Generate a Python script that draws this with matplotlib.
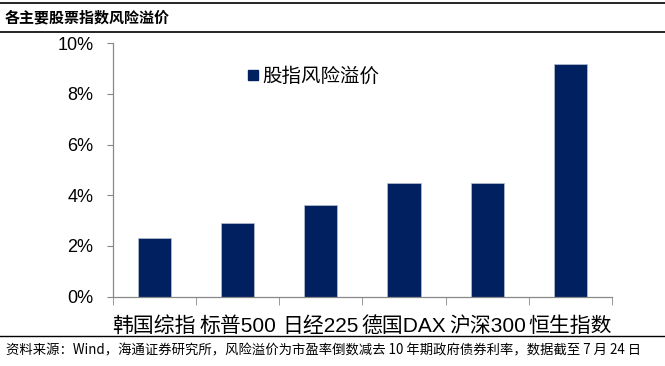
import matplotlib
matplotlib.use("Agg")
import matplotlib.pyplot as plt
from matplotlib.lines import Line2D
from matplotlib.ticker import FuncFormatter, FixedLocator

plt.rcParams['font.family'] = ['Liberation Sans', 'Noto Sans CJK SC', 'DejaVu Sans']

categories = ["韩国综指", "标普500", "日经225", "德国DAX", "沪深300", "恒生指数"]
values = [2.30, 2.90, 3.61, 4.50, 4.50, 9.18]
series_name = "股指风险溢价"
yticks = [0, 2, 4, 6, 8, 10]
title = "各主要股票指数风险溢价"
source = "资料来源：Wind，海通证券研究所，风险溢价为市盈率倒数减去 10 年期政府债券利率，数据截至 7 月 24 日"

bar_color = "#002060"

W, H = 665, 366
fig = plt.figure(figsize=(6.65, 3.66), dpi=100)
L, R, B, T = 112.7, 612, 296.7, 43.2
ax = fig.add_axes([L/W, 1-B/H, (R-L)/W, (B-T)/H])

x = list(range(len(categories)))
ax.bar(x, values, width=0.40, color=bar_color, edgecolor='#b8c0d0', linewidth=0.5,
       label=series_name)
ax.set_xlim(-0.5, len(categories)-0.5)
ax.set_ylim(0, 10)
ax.set_yticks(yticks)
ax.yaxis.set_major_formatter(FuncFormatter(lambda v, p: f"{v:.0f}%"))
ax.set_xticks(x)
ax.set_xticklabels(categories, fontsize=15, family=['Liberation Sans', 'Noto Sans CJK SC'])
ax.tick_params(axis='x', length=0, pad=14)
ax.xaxis.set_minor_locator(FixedLocator([i - 0.5 for i in range(len(categories)+1)]))
ax.tick_params(axis='x', which='minor', length=6, color='#888888', direction='out')
ax.tick_params(axis='y', labelsize=13, length=4, color='#888888', pad=10)
for s in ['top', 'right']:
    ax.spines[s].set_visible(False)
for s in ['left', 'bottom']:
    ax.spines[s].set_color('#888888')
    ax.spines[s].set_linewidth(0.9)

handle = Line2D([], [], marker='s', linestyle='None', markersize=6.5, color=bar_color)
ax.legend([handle], [series_name], loc='center left',
          bbox_to_anchor=((243-L)/(R-L), (B-76)/(B-T)),
          frameon=False, handletextpad=0.0, borderaxespad=0, borderpad=0,
          handlelength=1.0,
          prop={'family': ['Noto Sans CJK SC'], 'size': 14})

# header / footer lines
fig.add_artist(Line2D([0, 1], [1-3/H, 1-3/H], color='black', lw=1.2))
fig.add_artist(Line2D([0, 1], [1-32/H, 1-32/H], color='black', lw=1.2))
fig.add_artist(Line2D([0, 1], [1-336/H, 1-336/H], color='black', lw=1.0))
fig.text(5/W, 1-17/H, title, fontsize=10.8, fontweight='bold', va='center', ha='left',
         family=['Noto Sans CJK SC'])
fig.text(6/W, 1-350/H, source, fontsize=9.6, va='center', ha='left',
         family=['Noto Sans CJK SC', 'DejaVu Sans'])

fig.savefig("out.png", dpi=100)
